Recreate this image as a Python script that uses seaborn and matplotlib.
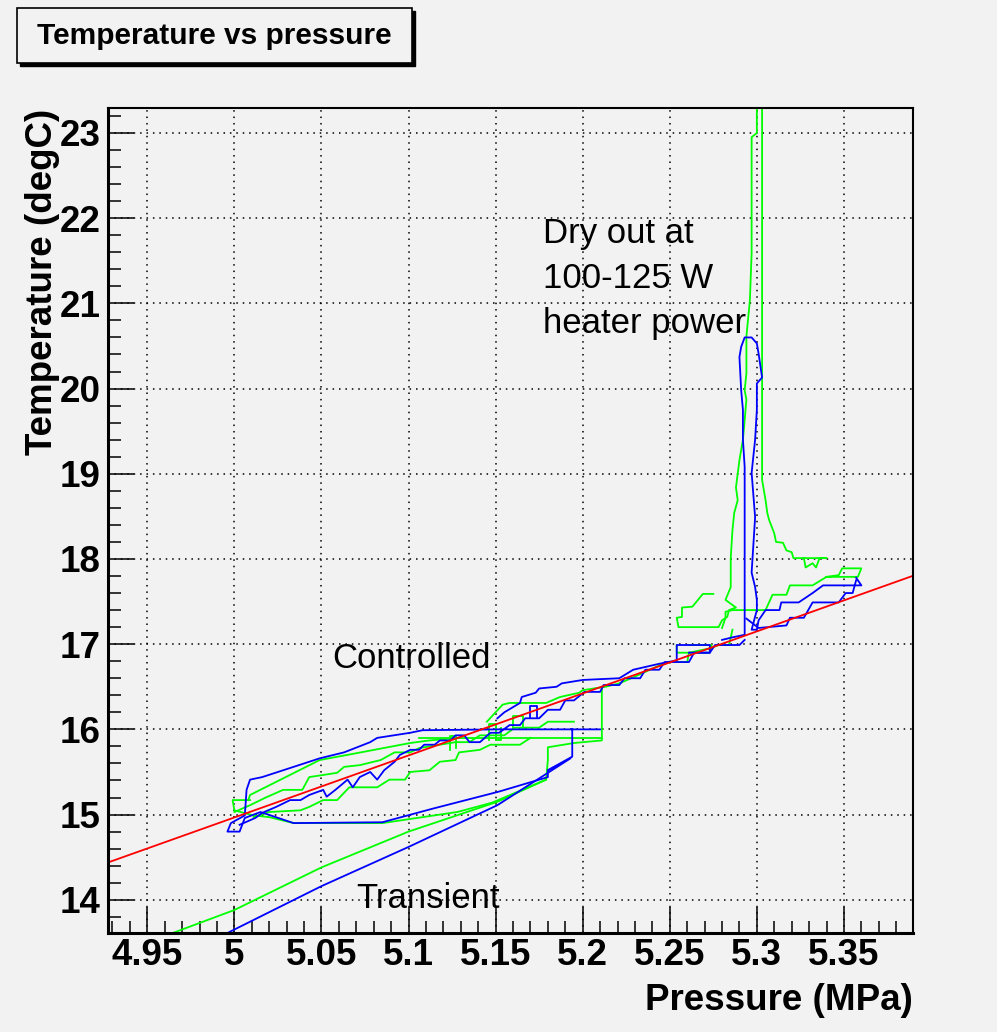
import numpy as np
import pandas as pd
import matplotlib
matplotlib.use("Agg")
import matplotlib.pyplot as plt
import seaborn as sns
from matplotlib.ticker import MultipleLocator, FixedLocator
from matplotlib.patches import Rectangle

# ---------------- data (pressure MPa, temperature degC) ----------------
x_ticks = [4.95, 5.0, 5.05, 5.1, 5.15, 5.2, 5.25, 5.3, 5.35]
x_tick_labels = ["4.95", "5", "5.05", "5.1", "5.15", "5.2", "5.25", "5.3", "5.35"]
y_ticks = [14, 15, 16, 17, 18, 19, 20, 21, 22, 23]
y_tick_labels = ["14", "15", "16", "17", "18", "19", "20", "21", "22", "23"]
x_range = [4.9276, 5.3898]
y_range = [13.606, 23.29]

fit_slope = 7.28
fit_intercept = -21.434

green_transient = [(4.962, 13.59), (5.000, 13.88), (5.050, 14.38), (5.100, 14.80), (5.151, 15.15),
                   (5.179, 15.41), (5.180, 15.64), (5.180, 15.79), (5.195, 15.84), (5.211, 15.87),
                   (5.211, 16.50)]
green_flat = [(5.106, 15.90), (5.211, 15.90)]
green_loop = [(5.179, 15.41), (5.148, 15.14), (5.128, 15.03), (5.085, 14.90), (5.034, 14.90),
              (5.020, 14.97), (5.011, 14.99), (5.000, 15.05), (4.999, 15.17), (5.009, 15.17)]
green_band_top = [(5.008, 15.17), (5.009, 15.23), (5.049, 15.64), (5.070, 15.72), (5.101, 15.84),
                  (5.112, 15.87), (5.129, 15.90)]
green_band_mid = [(5.000, 15.03), (5.009, 15.11), (5.018, 15.20), (5.028, 15.29), (5.039, 15.29),
                  (5.043, 15.44), (5.059, 15.49), (5.063, 15.56), (5.072, 15.58), (5.084, 15.64),
                  (5.092, 15.73), (5.101, 15.73), (5.106, 15.78), (5.118, 15.82), (5.127, 15.85),
                  (5.135, 15.85), (5.141, 15.93), (5.155, 15.93), (5.161, 16.02), (5.175, 16.02),
                  (5.180, 16.09), (5.195, 16.09)]
green_band_low = [(5.011, 14.97), (5.020, 15.03), (5.038, 15.05), (5.043, 15.09), (5.051, 15.17),
                  (5.059, 15.17), (5.066, 15.32), (5.082, 15.32), (5.089, 15.41), (5.098, 15.41),
                  (5.101, 15.50), (5.112, 15.52), (5.118, 15.62), (5.127, 15.64), (5.129, 15.73),
                  (5.141, 15.76), (5.147, 15.82), (5.164, 15.82), (5.170, 15.90)]
green_upper = [(5.145, 16.09), (5.154, 16.29), (5.158, 16.31), (5.179, 16.31), (5.187, 16.38),
               (5.198, 16.43), (5.200, 16.46), (5.213, 16.50), (5.221, 16.54), (5.229, 16.61),
               (5.244, 16.75), (5.250, 16.79), (5.260, 16.79), (5.261, 16.90), (5.273, 16.95),
               (5.278, 16.99), (5.284, 16.99), (5.286, 17.17)]
green_box = [(5.254, 16.99), (5.254, 16.90), (5.273, 16.90), (5.274, 16.99), (5.261, 16.99)]
green_spike = [(5.275, 17.59), (5.269, 17.59), (5.263, 17.44), (5.257, 17.43), (5.257, 17.32),
               (5.254, 17.31), (5.255, 17.20), (5.278, 17.20), (5.280, 17.28), (5.283, 17.32),
               (5.284, 17.40), (5.288, 17.43), (5.282, 17.52), (5.285, 17.67), (5.285, 18.01),
               (5.286, 18.34), (5.287, 18.54), (5.289, 18.69), (5.288, 18.84), (5.290, 19.16),
               (5.292, 19.40), (5.293, 19.63), (5.294, 19.87), (5.293, 19.98), (5.294, 20.18),
               (5.294, 20.61), (5.296, 21.04), (5.297, 21.59), (5.297, 22.21), (5.297, 22.68),
               (5.297, 22.95), (5.300, 23.00), (5.300, 23.45), (5.303, 23.45), (5.303, 18.93),
               (5.305, 18.69), (5.306, 18.54), (5.307, 18.46), (5.310, 18.30), (5.311, 18.20),
               (5.315, 18.19), (5.317, 18.10), (5.320, 18.08), (5.321, 18.01), (5.340, 18.01),
               (5.336, 18.01), (5.334, 17.90), (5.332, 17.95), (5.328, 17.90), (5.327, 18.01)]
green_right_steps = [(5.280, 17.19), (5.282, 17.31), (5.282, 17.38), (5.286, 17.40), (5.300, 17.40),
                     (5.305, 17.40), (5.309, 17.58), (5.317, 17.58), (5.319, 17.69), (5.332, 17.69),
                     (5.340, 17.79), (5.347, 17.81), (5.349, 17.89), (5.360, 17.89), (5.358, 17.79),
                     (5.340, 17.79)]
green_jitter_a = [(5.124, 15.76), (5.124, 15.92), (5.127, 15.92), (5.127, 15.78)]
green_jitter_b = [(5.146, 15.87), (5.146, 16.06), (5.150, 16.06), (5.150, 15.88), (5.153, 15.88),
                  (5.153, 16.02)]
green_jitter_c = [(5.160, 16.02), (5.160, 16.16), (5.166, 16.16), (5.166, 16.00)]

blue_transient = [(4.996, 13.61), (5.050, 14.16), (5.100, 14.62), (5.151, 15.11), (5.193, 15.66),
                  (5.180, 15.52)]
blue_loop = [(5.194, 16.00), (5.194, 15.68), (5.180, 15.52), (5.180, 15.44), (5.152, 15.27),
             (5.114, 15.07), (5.085, 14.91), (5.034, 14.90), (5.015, 15.03), (5.006, 14.96),
             (5.003, 14.80), (4.996, 14.80), (4.998, 14.90), (5.006, 14.99), (5.007, 15.29),
             (5.009, 15.41), (5.016, 15.44), (5.049, 15.66), (5.063, 15.73), (5.078, 15.85),
             (5.082, 15.90), (5.101, 15.96), (5.108, 15.99), (5.152, 16.00), (5.194, 16.00),
             (5.210, 16.00)]
blue_band = [(5.003, 14.88), (5.012, 14.96), (5.016, 15.02), (5.024, 15.09), (5.032, 15.17),
             (5.038, 15.17), (5.043, 15.23), (5.051, 15.29), (5.053, 15.21), (5.058, 15.29),
             (5.065, 15.41), (5.068, 15.32), (5.072, 15.44), (5.078, 15.50), (5.082, 15.41),
             (5.086, 15.52), (5.092, 15.62), (5.095, 15.70), (5.101, 15.76), (5.106, 15.76),
             (5.109, 15.82), (5.115, 15.82), (5.118, 15.87), (5.124, 15.87), (5.127, 15.93),
             (5.132, 15.93), (5.135, 15.85), (5.141, 15.85), (5.147, 15.96), (5.152, 15.96),
             (5.158, 16.05), (5.164, 16.05), (5.167, 16.13), (5.175, 16.13), (5.180, 16.23),
             (5.187, 16.23), (5.190, 16.34), (5.195, 16.34), (5.201, 16.44), (5.210, 16.44),
             (5.212, 16.52), (5.221, 16.52), (5.224, 16.60), (5.233, 16.60), (5.236, 16.70),
             (5.244, 16.70), (5.247, 16.79), (5.261, 16.79), (5.264, 16.90), (5.273, 16.90),
             (5.276, 16.99), (5.290, 16.99), (5.293, 17.05)]
blue_upper = [(5.151, 16.13), (5.155, 16.20), (5.164, 16.31), (5.165, 16.38), (5.173, 16.43),
              (5.175, 16.48), (5.185, 16.50), (5.188, 16.54), (5.200, 16.58), (5.221, 16.60),
              (5.229, 16.70), (5.244, 16.77), (5.254, 16.81), (5.254, 16.99), (5.273, 16.99),
              (5.273, 16.90), (5.261, 16.90)]
blue_spike = [(5.280, 17.05), (5.286, 17.08), (5.293, 17.11), (5.293, 17.52), (5.293, 19.08),
              (5.292, 19.40), (5.292, 19.75), (5.291, 19.98), (5.290, 20.37), (5.291, 20.49),
              (5.293, 20.60), (5.297, 20.60), (5.300, 20.53), (5.301, 20.41), (5.303, 20.13),
              (5.300, 20.06), (5.300, 19.75), (5.299, 19.40), (5.297, 19.01), (5.299, 18.49),
              (5.297, 17.84), (5.299, 17.67), (5.300, 17.52), (5.300, 17.40), (5.297, 17.17),
              (5.300, 17.17), (5.301, 17.28), (5.305, 17.40), (5.313, 17.40), (5.314, 17.49),
              (5.324, 17.49), (5.332, 17.60), (5.338, 17.69), (5.360, 17.69), (5.357, 17.78)]
blue_right_steps = [(5.294, 17.30), (5.301, 17.19), (5.317, 17.22), (5.319, 17.31), (5.327, 17.31),
                    (5.332, 17.49), (5.347, 17.49), (5.351, 17.60), (5.355, 17.60), (5.357, 17.75)]
blue_jitter = [(5.170, 16.13), (5.170, 16.28), (5.174, 16.28), (5.174, 16.15)]

green_segments = {"transient": green_transient, "flat": green_flat, "loop": green_loop,
                  "band_top": green_band_top, "band_mid": green_band_mid, "band_low": green_band_low,
                  "upper": green_upper, "box": green_box, "spike": green_spike,
                  "right": green_right_steps, "jit_a": green_jitter_a, "jit_b": green_jitter_b,
                  "jit_c": green_jitter_c}
blue_segments = {"transient": blue_transient, "loop": blue_loop, "band": blue_band,
                 "upper": blue_upper, "spike": blue_spike, "right": blue_right_steps,
                 "jit": blue_jitter}


def to_frame(segments):
    rows = []
    for name, pts in segments.items():
        for i, (p, t) in enumerate(pts):
            rows.append({"seg": name, "order": i, "P": p, "T": t})
    return pd.DataFrame(rows)


df_green = to_frame(green_segments)
df_blue = to_frame(blue_segments)
fit_p = np.array(x_range)
df_fit = pd.DataFrame({"P": fit_p, "T": fit_intercept + fit_slope * fit_p})

# ---------------- style ----------------
bg = "#f2f2f2"
plt.rcParams["font.family"] = ["Liberation Sans", "DejaVu Sans"]

fig = plt.figure(figsize=(9.97, 10.32), dpi=100, facecolor=bg)
ax = fig.add_axes([0.1086, 0.0956, 0.9160 - 0.1086, 0.8951 - 0.0956])
ax.set_facecolor(bg)

sns.lineplot(data=df_green, x="P", y="T", units="seg", estimator=None, sort=False,
             color="#00ff00", linewidth=1.3, ax=ax, legend=False)
sns.lineplot(data=df_blue, x="P", y="T", units="seg", estimator=None, sort=False,
             color="#0000ff", linewidth=1.3, ax=ax, legend=False)
sns.lineplot(data=df_fit, x="P", y="T", sort=False, color="#ff0000", linewidth=1.3,
             ax=ax, legend=False)

ax.set_xlim(*x_range)
ax.set_ylim(*y_range)
ax.xaxis.set_major_locator(FixedLocator(x_ticks))
ax.set_xticklabels(x_tick_labels)
ax.yaxis.set_major_locator(FixedLocator(y_ticks))
ax.set_yticklabels(y_tick_labels)
ax.xaxis.set_minor_locator(MultipleLocator(0.01))
ax.yaxis.set_minor_locator(MultipleLocator(0.2))

ax.tick_params(which="major", direction="in", length=18.5, width=1.1, labelsize=26.5,
               top=False, right=False, color="black")
ax.tick_params(which="minor", direction="in", length=9, width=1.1, top=False, right=False)
ax.tick_params(axis="x", which="major", pad=3.5)
ax.tick_params(axis="y", which="major", pad=5.5)
for lbl in ax.get_xticklabels() + ax.get_yticklabels():
    lbl.set_fontweight("bold")

ax.set_axisbelow(True)
ax.grid(True, which="major", color="black", linestyle=(0, (1, 3.2)), linewidth=1.1)
for side in ["top", "right"]:
    ax.spines[side].set_linewidth(1.5)
for side in ["bottom", "left"]:
    ax.spines[side].set_linewidth(2.2)

ax.set_xlabel("")
ax.set_ylabel("")

fig.text(0.9160, 1 - 1010 / 1032, "Pressure (MPa)", ha="right", va="baseline",
         fontsize=26.5, fontweight="bold")
fig.text(0.0425, 0.8951, "Temperature (degC)", rotation=90, ha="center", va="top",
         fontsize=26.5, fontweight="bold")

# title box with shadow
fig.patches.append(Rectangle((20 / 997, 1 - 66 / 1032), 395 / 997, 55 / 1032,
                             transform=fig.transFigure, facecolor="black", edgecolor="black",
                             zorder=1))
fig.patches.append(Rectangle((17 / 997, 1 - 63 / 1032), 395 / 997, 55 / 1032,
                             transform=fig.transFigure, facecolor=bg, edgecolor="black",
                             linewidth=1.2, zorder=2))
fig.text((17 + 412) / 2 / 997, 1 - 36 / 1032, "Temperature vs pressure", ha="center",
         va="center", fontsize=21.5, fontweight="bold", zorder=3)

# annotations
ax.text(5.177, 21.71, "Dry out at", fontsize=25, ha="left", va="baseline")
ax.text(5.177, 21.18, "100-125 W", fontsize=25, ha="left", va="baseline")
ax.text(5.177, 20.65, "heater power", fontsize=25, ha="left", va="baseline")
ax.text(5.056, 16.72, "Controlled", fontsize=25, ha="left", va="baseline")
ax.text(5.070, 13.90, "Transient", fontsize=25, ha="left", va="baseline")

fig.savefig("out.png", dpi=100, facecolor=bg)
